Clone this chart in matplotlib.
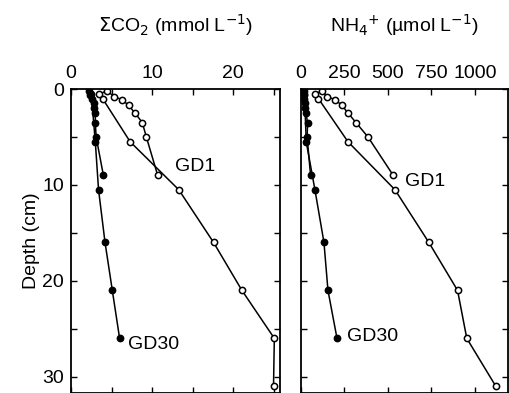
import matplotlib
matplotlib.use('Agg')
import matplotlib.pyplot as plt
from matplotlib.ticker import FixedLocator

plt.rcParams['font.family'] = ['Liberation Sans', 'DejaVu Sans']

# GD1 (open circles): fine upper profile and coarse full-length profile
gd1_fine_depth = [0.5, 0.2, 0.8, 1.1, 1.7, 2.5, 3.5, 5.0, 9.0]
gd1_fine_co2 = [3.5, 4.5, 5.3, 6.3, 7.1, 7.9, 8.8, 9.3, 10.7]
gd1_fine_nh4 = [80, 120, 150, 195, 235, 270, 316, 385, 530]

gd1_depth = [1.0, 5.5, 10.5, 16.0, 21.0, 26.0, 31.0]
gd1_co2 = [3.9, 7.3, 13.3, 17.6, 21.1, 25.1, 25.0]
gd1_nh4 = [100, 270, 540, 735, 900, 953, 1120]

# GD30 (filled circles)
gd30_fine_depth = [0.2, 0.6, 1.0, 1.5, 2.0, 2.5, 3.5, 5.0, 9.0]
gd30_fine_co2 = [2.2, 2.4, 2.6, 2.8, 2.9, 3.0, 3.0, 3.1, 4.0]
gd30_fine_nh4 = [15, 18, 20, 22, 25, 28, 38, 35, 55]

gd30_depth = [0.5, 5.5, 10.5, 16.0, 21.0, 26.0]
gd30_co2 = [2.5, 3.0, 3.4, 4.2, 5.1, 6.0]
gd30_nh4 = [20, 30, 80, 132, 155, 207]

FS = 14

fig = plt.figure(figsize=(5.09, 3.93), dpi=100)
ax1 = fig.add_axes([71 / 509, 0.0, 209 / 509, 1 - 89 / 393])
ax2 = fig.add_axes([301 / 509, 0.0, 207 / 509, 1 - 89 / 393])

open_kw = dict(color='black', lw=1.1, marker='o', ms=4.5, mfc='white', mec='black', mew=1.1)
fill_kw = dict(color='black', lw=1.1, marker='o', ms=4.5, mfc='black', mec='black', mew=1.1)


def draw_panel(ax, fine_gd1, gd1, fine_gd30, gd30):
    ax.plot(fine_gd30, gd30_fine_depth, **fill_kw)
    ax.plot(gd30, gd30_depth, **fill_kw)
    ax.plot(gd1, gd1_depth, **open_kw)
    ax.plot(fine_gd1, gd1_fine_depth, **open_kw)
    ax.set_ylim(31.7, 0)
    ax.yaxis.set_major_locator(FixedLocator([0, 10, 20, 30]))
    ax.yaxis.set_minor_locator(FixedLocator([5, 15, 25]))
    ax.xaxis.tick_top()
    ax.tick_params(which='both', direction='in', top=True, bottom=True,
                   left=True, right=True, length=4, width=1, labelsize=FS, pad=5)
    for s in ax.spines.values():
        s.set_linewidth(1.3)


draw_panel(ax1, gd1_fine_co2, gd1_co2, gd30_fine_co2, gd30_co2)
ax1.set_xlim(0, 25.8)
ax1.xaxis.set_major_locator(FixedLocator([0, 10, 20]))
ax1.xaxis.set_minor_locator(FixedLocator([5, 15, 25]))
ax1.set_ylabel('Depth (cm)', fontsize=FS, labelpad=2)
ax1.text(12.8, 8.1, 'GD1', fontsize=FS, va='center', ha='left')
ax1.text(7.0, 26.6, 'GD30', fontsize=FS, va='center', ha='left')
ax1.set_title(r'$\Sigma$CO$_2$ (mmol L$^{-1}$)', fontsize=FS, pad=41)

draw_panel(ax2, gd1_fine_nh4, gd1_nh4, gd30_fine_nh4, gd30_nh4)
ax2.set_xlim(0, 1190)
ax2.xaxis.set_major_locator(FixedLocator([0, 250, 500, 750, 1000]))
ax2.set_yticklabels([])
ax2.text(598, 9.6, 'GD1', fontsize=FS, va='center', ha='left')
ax2.text(264, 25.8, 'GD30', fontsize=FS, va='center', ha='left')
ax2.set_title('NH$_4$$^{+}$ (µmol L$^{-1}$)', fontsize=FS, pad=41)

fig.savefig('out.png', dpi=100)
